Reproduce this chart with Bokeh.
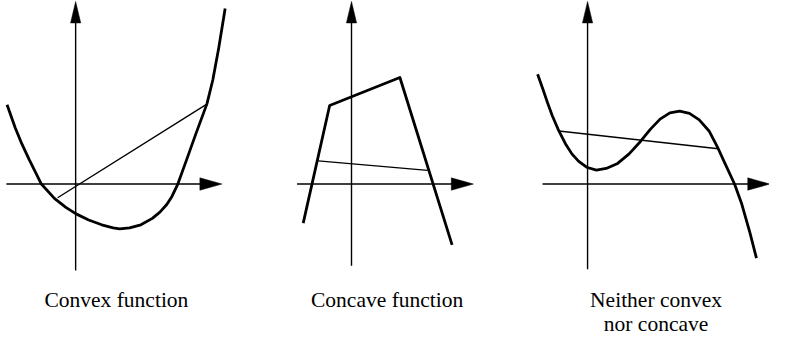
from bokeh.plotting import figure
from bokeh.layouts import row
from bokeh.models import Range1d
from bokeh.core.properties import value
from bokeh.embed import file_html
from bokeh.resources import INLINE

# ---- data (units: reference pixels, origin at each panel's axes crossing, y up)
convex_x = [-70, -61.7, -55, -47.4, -39.4, -35, -21.7, -10, 0, 13.3, 26.6, 38.3, 45, 55,
            66.6, 78.3, 86, 93, 98.3, 104.3, 113.3, 122.6, 134, 140, 146, 152.6]
convex_y = [83, 59, 42.3, 25.6, 9, 0, -15, -24.4, -31, -37.7, -42.7, -46, -47, -46,
            -42.7, -36, -29.5, -21.5, -13, 0, 25.6, 52.3, 84, 109, 142.3, 184]
convex_chord_x = [-18.4, 134.3]
convex_chord_y = [-14.4, 84]

concave_x = [-49.3, -22.3, 49.4, 102.7]
concave_y = [-41, 82.3, 111.6, -63.7]
concave_chord_x = [-34, 77.7]
concave_chord_y = [24.3, 14.3]

neither_x = [-51, -46, -41, -36, -29.3, -22.6, -16, -9.3, -1, 9, 19, 30.7, 42.4, 54, 64,
             74, 84, 94, 104, 114, 124, 133.4, 140.7, 150, 157.4, 165.7, 172.4]
neither_y = [115, 100.6, 85.6, 71.6, 55.6, 42.3, 31.6, 24, 17.6, 14.6, 16.3, 21.6, 31.6,
             44.6, 57.3, 68, 74.6, 76.3, 74, 67.3, 55.6, 37, 20.6, 0, -21, -51, -77.7]
neither_chord_x = [-29.3, 133.4]
neither_chord_y = [55.6, 37]

# axes extents per panel: (x start, x tip, y bottom, y tip)
axis_x_start = [-70.7, -55.6, -46]
axis_x_tip = [149.3, 124.4, 186]
axis_y_start = [-90.7, -85.7, -89.4]
axis_y_tip = [191.3, 191.3, 191.3]

labels = [["Convex function"], ["Concave function"], ["Neither convex", "nor concave"]]
label_x = [41.6, 36.4, 69.9]
label_y = [-122, -122, -122]

# panel view windows (reference pixels)
x_ranges = [(-76.7, 184.6), (-97.0, 165.4), (-75.6, 185.7)]
y_range = (-158.7, 192.3)
widths = [256, 257, 256]
HEIGHT = 335

ARROW_LEN = 22.5
ARROW_HALF = 6.5
LINE_GAP = 24.5
FONT = "Liberation Serif"

curves = [
    (convex_x, convex_y, convex_chord_x, convex_chord_y),
    (concave_x, concave_y, concave_chord_x, concave_chord_y),
    (neither_x, neither_y, neither_chord_x, neither_chord_y),
]

figs = []
for i in range(3):
    p = figure(width=widths[i], height=HEIGHT, output_backend="svg", toolbar_location=None,
               x_range=Range1d(*x_ranges[i]), y_range=Range1d(*y_range),
               min_border=0, x_axis_type=None, y_axis_type=None)
    p.grid.visible = False
    p.outline_line_color = None
    p.background_fill_color = "white"
    p.border_fill_color = "white"

    # axes
    xs, xt, ys, yt = axis_x_start[i], axis_x_tip[i], axis_y_start[i], axis_y_tip[i]
    p.segment(x0=[xs, 0], y0=[0, ys], x1=[xt - ARROW_LEN + 2, 0], y1=[0, yt - ARROW_LEN + 2],
              line_color="black", line_width=1.4)
    p.patches(xs=[[xt, xt - ARROW_LEN, xt - ARROW_LEN], [0, -ARROW_HALF * 0.8, ARROW_HALF * 0.8]],
              ys=[[0, ARROW_HALF, -ARROW_HALF], [yt, yt - ARROW_LEN, yt - ARROW_LEN]],
              fill_color="black", line_color="black", line_width=0.5)

    cx, cy, chx, chy = curves[i]
    p.line(chx, chy, line_color="black", line_width=1.4)
    p.line(cx, cy, line_color="black", line_width=2.8, line_join="round")

    for k, t in enumerate(labels[i]):
        p.text(x=[label_x[i]], y=[label_y[i] - k * LINE_GAP], text=[t],
               text_font=value(FONT), text_font_size="21.5px", text_color="black",
               text_align="center", text_baseline="alphabetic")
    figs.append(p)

layout = row(*figs)
open("out.html", "w").write(file_html(layout, INLINE))
